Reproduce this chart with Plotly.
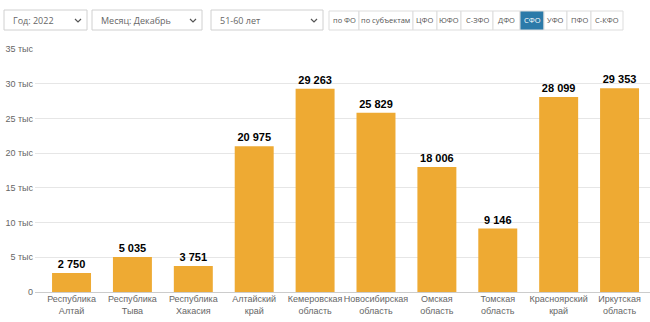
import plotly.graph_objects as go

categories = ["Республика<br>Алтай", "Республика<br>Тыва", "Республика<br>Хакасия",
              "Алтайский<br>край", "Кемеровская<br>область", "Новосибирская<br>область",
              "Омская<br>область", "Томская<br>область", "Красноярский<br>край",
              "Иркутская<br>область"]
values = [2750, 5035, 3751, 20975, 29263, 25829, 18006, 9146, 28099, 29353]
tick_vals = [0, 5000, 10000, 15000, 20000, 25000, 30000, 35000]
tick_text = ["0", "5 тыс", "10 тыс", "15 тыс", "20 тыс", "25 тыс", "30 тыс", "35 тыс"]
dropdowns = ["Год: 2022", "Месяц: Декабрь", "51-60 лет"]
buttons = ["по ФО", "по субъектам", "ЦФО", "ЮФО", "С-ЗФО", "ДФО", "СФО", "УФО", "ПФО", "С-КФО"]
active_button = "СФО"

W, H = 650, 322
def px(x):
    return x / W
def py(y):
    return 1 - y / H

labels = [f"{v:,}".replace(",", " ") for v in values]

fig = go.Figure(go.Bar(
    x=list(range(len(categories))), y=values, text=labels,
    textposition="outside", cliponaxis=False,
    textfont=dict(family="Liberation Sans, Arial", size=11, color="#000000", weight="bold"),
    marker=dict(color="#eeaa33", line=dict(width=0)),
    width=0.64, hoverinfo="skip",
))

fig.update_layout(
    width=W, height=H, autosize=False,
    margin=dict(l=0, r=0, t=0, b=0, autoexpand=False),
    paper_bgcolor="white", plot_bgcolor="white",
    showlegend=False,
    font=dict(family="Liberation Sans, Arial", color="#666666", size=10),
    xaxis=dict(domain=[px(35), 1.0], range=[-0.6, 9.5], automargin=False,
               tickmode="array", tickvals=list(range(len(categories))), ticktext=categories,
               tickangle=0,
               showgrid=False, zeroline=False, showline=False,
               tickfont=dict(size=9, color="#666666"), ticks="", fixedrange=True),
    yaxis=dict(domain=[py(292), py(49)], range=[0, 35000], automargin=False,
               tickmode="array", tickvals=tick_vals, ticktext=tick_text,
               showgrid=True, gridcolor="#e6e6e6", gridwidth=1,
               zeroline=True, zerolinecolor="#cccccc", zerolinewidth=1,
               showline=False, ticks="", ticklabelstandoff=1,
               tickfont=dict(size=9, color="#666666"), fixedrange=True),
)

shapes = []
annotations = []

# Dropdowns
dd_boxes = [(4, 87), (92, 202), (211, 323)]
for (x0, x1), label in zip(dd_boxes, dropdowns):
    shapes.append(dict(type="rect", xref="paper", yref="paper",
                       x0=px(x0), x1=px(x1), y0=py(30), y1=py(10),
                       line=dict(color="#d0d0d0", width=1), fillcolor="white", layer="above"))
    cx = x1 - 9
    shapes.append(dict(type="path", xref="paper", yref="paper",
                       path=f"M {px(cx-3)} {py(19)} L {px(cx)} {py(22)} L {px(cx+3)} {py(19)}",
                       line=dict(color="#555555", width=1.2)))
    annotations.append(dict(x=px(x0 + 7), y=py(20), xref="paper", yref="paper",
                            text=label, showarrow=False, xanchor="left", yanchor="middle",
                            font=dict(family="Open Sans", size=9, color="#666666")))

# Button group
edges = [329, 359, 413, 437, 461, 493, 520, 544, 567, 591, 623]
for i, b in enumerate(buttons):
    x0, x1 = edges[i], edges[i + 1]
    active = (b == active_button)
    shapes.append(dict(type="rect", xref="paper", yref="paper",
                       x0=px(x0), x1=px(x1), y0=py(30), y1=py(11),
                       line=dict(color="#dddddd", width=1),
                       fillcolor="#2b7aa9" if active else "white", layer="above"))
    annotations.append(dict(x=px((x0 + x1) / 2), y=py(20.5), xref="paper", yref="paper",
                            text=b, showarrow=False, xanchor="center", yanchor="middle",
                            font=dict(family="Open Sans", size=7.5,
                                      color="white" if active else "#555555")))

fig.update_layout(shapes=shapes, annotations=annotations)
fig.write_html("out.html")
